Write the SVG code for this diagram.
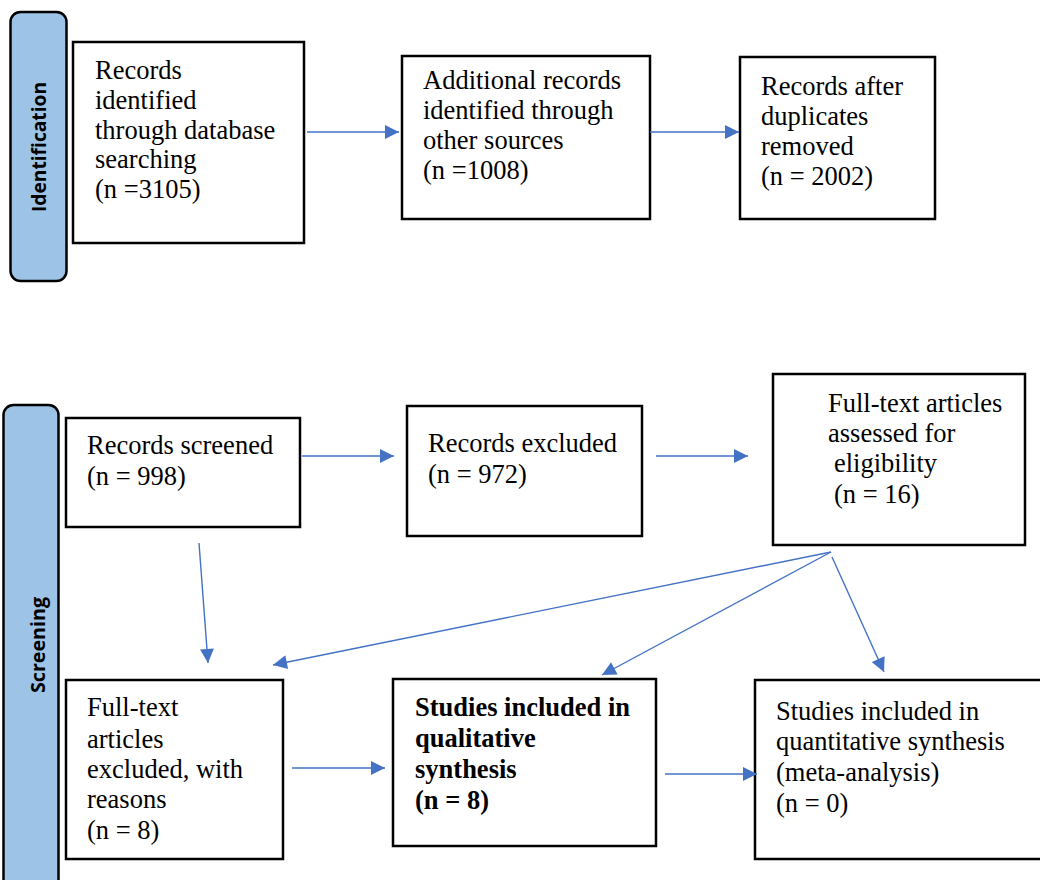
<svg xmlns="http://www.w3.org/2000/svg" width="1040" height="880" viewBox="0 0 1040 880">
<defs>
<style>
.box{fill:#fff;stroke:#000;stroke-width:2.5}
.bar{fill:#9DC3E6;stroke:#000;stroke-width:2.5}
.t{font-family:"Liberation Serif","Times New Roman",serif;font-size:26.5px;fill:#000}
.b{font-weight:bold}
.side{font-family:"Open Sans","Liberation Sans",sans-serif;font-size:19px;font-weight:bold;fill:#000}
.c{stroke:#4472C4;stroke-width:1.4;fill:none;marker-end:url(#ah)}
</style>
<marker id="ah" viewBox="0 0 10 10" refX="10" refY="5" markerWidth="17" markerHeight="14" markerUnits="userSpaceOnUse" orient="auto">
<path d="M0,0 L10,5 L0,10 z" fill="#4472C4"/>
</marker>
</defs>
<rect width="1040" height="880" fill="#fff"/>
<g id="phase-identification">
<rect class="bar" x="10.5" y="12" width="56" height="269" rx="10"/>
<text class="side" transform="translate(45.5,147) rotate(-90)" text-anchor="middle" textLength="130" lengthAdjust="spacingAndGlyphs">Identification</text>
</g>
<g id="phase-screening">
<rect class="bar" x="3.5" y="405" width="55" height="520" rx="10"/>
<text class="side" transform="translate(44.5,645) rotate(-90)" text-anchor="middle" textLength="96" lengthAdjust="spacingAndGlyphs">Screening</text>
</g>
<g id="n-database">
<rect class="box" x="73" y="42" width="231" height="201"/>
<text class="t" x="95" y="79">Records</text>
<text class="t" x="95" y="109">identified</text>
<text class="t" x="95" y="139">through database</text>
<text class="t" x="95" y="168">searching</text>
<text class="t" x="95" y="198">(n =3105)</text>
</g>
<g id="n-additional">
<rect class="box" x="402" y="56" width="248" height="163"/>
<text class="t" x="423" y="89">Additional records</text>
<text class="t" x="423" y="119">identified through</text>
<text class="t" x="423" y="149">other sources</text>
<text class="t" x="423" y="179">(n =1008)</text>
</g>
<g id="n-duplicates">
<rect class="box" x="740" y="57" width="195" height="162"/>
<text class="t" x="761" y="95">Records after</text>
<text class="t" x="761" y="125">duplicates</text>
<text class="t" x="761" y="155">removed</text>
<text class="t" x="761" y="185">(n = 2002)</text>
</g>
<g id="n-screened">
<rect class="box" x="66" y="418" width="234" height="109"/>
<text class="t" x="87" y="454">Records screened</text>
<text class="t" x="87" y="485">(n = 998)</text>
</g>
<g id="n-excluded">
<rect class="box" x="407" y="406" width="235" height="130"/>
<text class="t" x="428" y="452">Records excluded</text>
<text class="t" x="428" y="483">(n = 972)</text>
</g>
<g id="n-assessed">
<rect class="box" x="773" y="374" width="252" height="171"/>
<text class="t" x="828" y="412">Full-text articles</text>
<text class="t" x="828" y="442">assessed for</text>
<text class="t" x="834" y="472">eligibility</text>
<text class="t" x="834" y="503">(n = 16)</text>
</g>
<g id="n-fulltext-excluded">
<rect class="box" x="66" y="680" width="217" height="179"/>
<text class="t" x="87" y="716">Full-text</text>
<text class="t" x="87" y="748">articles</text>
<text class="t" x="87" y="778">excluded, with</text>
<text class="t" x="87" y="808">reasons</text>
<text class="t" x="87" y="839">(n = 8)</text>
</g>
<g id="n-qualitative">
<rect class="box" x="393" y="679" width="263" height="167"/>
<text class="t b" x="415" y="716">Studies included in</text>
<text class="t b" x="415" y="747">qualitative</text>
<text class="t b" x="415" y="778">synthesis</text>
<text class="t b" x="415" y="809">(n = 8)</text>
</g>
<g id="n-quantitative">
<rect class="box" x="755" y="680" width="295" height="179"/>
<text class="t" x="776" y="720">Studies included in</text>
<text class="t" x="776" y="750">quantitative synthesis</text>
<text class="t" x="776" y="781">(meta-analysis)</text>
<text class="t" x="776" y="812">(n = 0)</text>
</g>
<g id="connectors">
<line class="c" x1="307" y1="132" x2="399" y2="132"/>
<line class="c" x1="650" y1="132" x2="739" y2="132"/>
<line class="c" x1="302" y1="456" x2="394" y2="456"/>
<line class="c" x1="656" y1="456" x2="748" y2="456"/>
<line class="c" x1="199" y1="543" x2="208" y2="663"/>
<line class="c" x1="831" y1="552" x2="273" y2="665"/>
<line class="c" x1="831" y1="552" x2="602" y2="675"/>
<line class="c" x1="832" y1="557" x2="884" y2="672"/>
<line class="c" x1="292" y1="768" x2="385" y2="768"/>
<line class="c" x1="665" y1="774" x2="757" y2="774"/>
</g>
</svg>
